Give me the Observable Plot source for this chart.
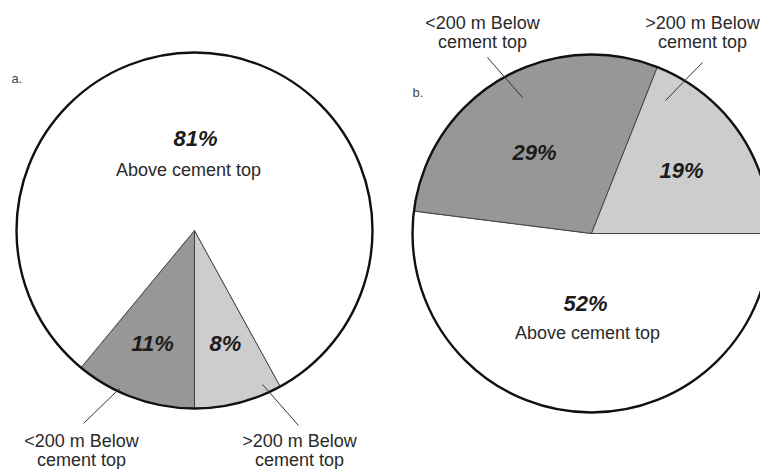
<!DOCTYPE html>
<html>
<head>
<meta charset="utf-8">
<script src="https://cdn.jsdelivr.net/npm/d3@7"></script>
<script src="https://cdn.jsdelivr.net/npm/@observablehq/plot@0.6"></script>
<style>
  html, body { margin: 0; padding: 0; background: #fff; }
  #chart svg { display: block; }
</style>
</head>
<body>
<div id="chart"></div>
<script>
// Cement-top position of the wells: shares (%) in two data sets
const categories = ["Above cement top", "<200 m Below cement top", ">200 m Below cement top"];
const percentA = [81, 11, 8];
const percentB = [52, 29, 19];
const panelNames = ["a.", "b."];
const calloutText = ["Above cement top", "<200 m Below\ncement top", ">200 m Below\ncement top"];

// Layout: pie centres, radius, slice order and label offsets (pixels from the centre)
const W = 760, H = 469;
const pies = [
  {
    name: panelNames[0], values: percentA, cx: 194, cy: 230, r: 178,
    order: [2, 1, 0], start: Math.PI - 2 * Math.PI * percentA[2] / 100,
    pct: [[1, -92], [-42, 113], [31, 113]],
    names: [[-6, -60], null, null],
    leaders: [null, [[-75, 158], [-111, 193]], [[68, 154], [104, 195]]],
    outside: [null, [-113, 220], [105, 220]],
    tag: [-183, -152]
  },
  {
    name: panelNames[1], values: percentB, cx: 591, cy: 233, r: 179,
    order: [0, 1, 2], start: Math.PI / 2,
    pct: [[-6, 70], [-57, -81], [90, -63]],
    names: [[-4, 100], null, null],
    leaders: [null, [[-69, -136], [-104, -176]], [[74, -133], [111, -171]]],
    outside: [null, [-109, -201], [111, -201]],
    tag: [-179, -141]
  }
];

// Slice outlines as closed polygons (centre + arc), angles from d3.pie
const slicePts = [];
for (const p of pies) {
  const arcs = d3.pie().sort(null).value(i => p.values[i])
    .startAngle(p.start).endAngle(p.start + 2 * Math.PI)(p.order);
  for (const a of arcs) {
    const key = p.name + a.data;
    const cat = categories[a.data];
    slicePts.push({key, cat, x: p.cx, y: p.cy});
    const n = Math.max(2, Math.ceil((a.endAngle - a.startAngle) / (Math.PI / 360)));
    for (let k = 0; k <= n; ++k) {
      const t = a.startAngle + (a.endAngle - a.startAngle) * k / n;
      slicePts.push({key, cat, x: p.cx + p.r * Math.sin(t), y: p.cy - p.r * Math.cos(t)});
    }
    slicePts.push({key, cat, x: p.cx, y: p.cy});
  }
}

const pctLabels = [], nameLabels = [], leaders = [], outsideLabels = [], tags = [];
for (const p of pies) {
  p.values.forEach((v, i) => {
    pctLabels.push({x: p.cx + p.pct[i][0], y: p.cy + p.pct[i][1], text: v + "%"});
    if (p.names[i]) nameLabels.push({x: p.cx + p.names[i][0], y: p.cy + p.names[i][1], text: calloutText[i]});
    if (p.leaders[i]) {
      const [[x1, y1], [x2, y2]] = p.leaders[i];
      leaders.push({x1: p.cx + x1, y1: p.cy + y1, x2: p.cx + x2, y2: p.cy + y2});
    }
    if (p.outside[i]) outsideLabels.push({x: p.cx + p.outside[i][0], y: p.cy + p.outside[i][1], text: calloutText[i]});
  });
  tags.push({x: p.cx + p.tag[0], y: p.cy + p.tag[1], text: p.name});
}

const font = "Liberation Sans, Arial, Helvetica, sans-serif";

const chart = Plot.plot({
  width: W,
  height: H,
  margin: 0,
  style: {background: "#fff", fontFamily: font},
  x: {domain: [0, W], range: [0, W], axis: null},
  y: {domain: [0, H], range: [0, H], axis: null},
  color: {domain: categories, range: ["#ffffff", "#979797", "#cdcdcd"]},
  marks: [
    Plot.line(slicePts, {x: "x", y: "y", z: "key", fill: "cat", stroke: "#3a3a3a", strokeWidth: 0.9, curve: "linear"}),
    // heavy outer rim of each pie (constant radius, in pixels)
    ...pies.map(p => Plot.dot([p], {x: "cx", y: "cy", r: p.r, fill: "none", stroke: "#111", strokeWidth: 2.4})),
    Plot.link(leaders, {x1: "x1", y1: "y1", x2: "x2", y2: "y2", stroke: "#333", strokeWidth: 1}),
    Plot.text(pctLabels, {x: "x", y: "y", text: "text", fontSize: 22, fontWeight: "bold", fontStyle: "italic", fill: "#1c1c1c"}),
    Plot.text(nameLabels, {x: "x", y: "y", text: "text", fontSize: 18, fill: "#2a2a2a"}),
    Plot.text(outsideLabels, {x: "x", y: "y", text: "text", fontSize: 18, lineHeight: 1.08, fill: "#2a2a2a"}),
    Plot.text(tags, {x: "x", y: "y", text: "text", fontSize: 13, textAnchor: "start", fill: "#444"})
  ]
});

document.getElementById("chart").appendChild(chart);
</script>
</body>
</html>
